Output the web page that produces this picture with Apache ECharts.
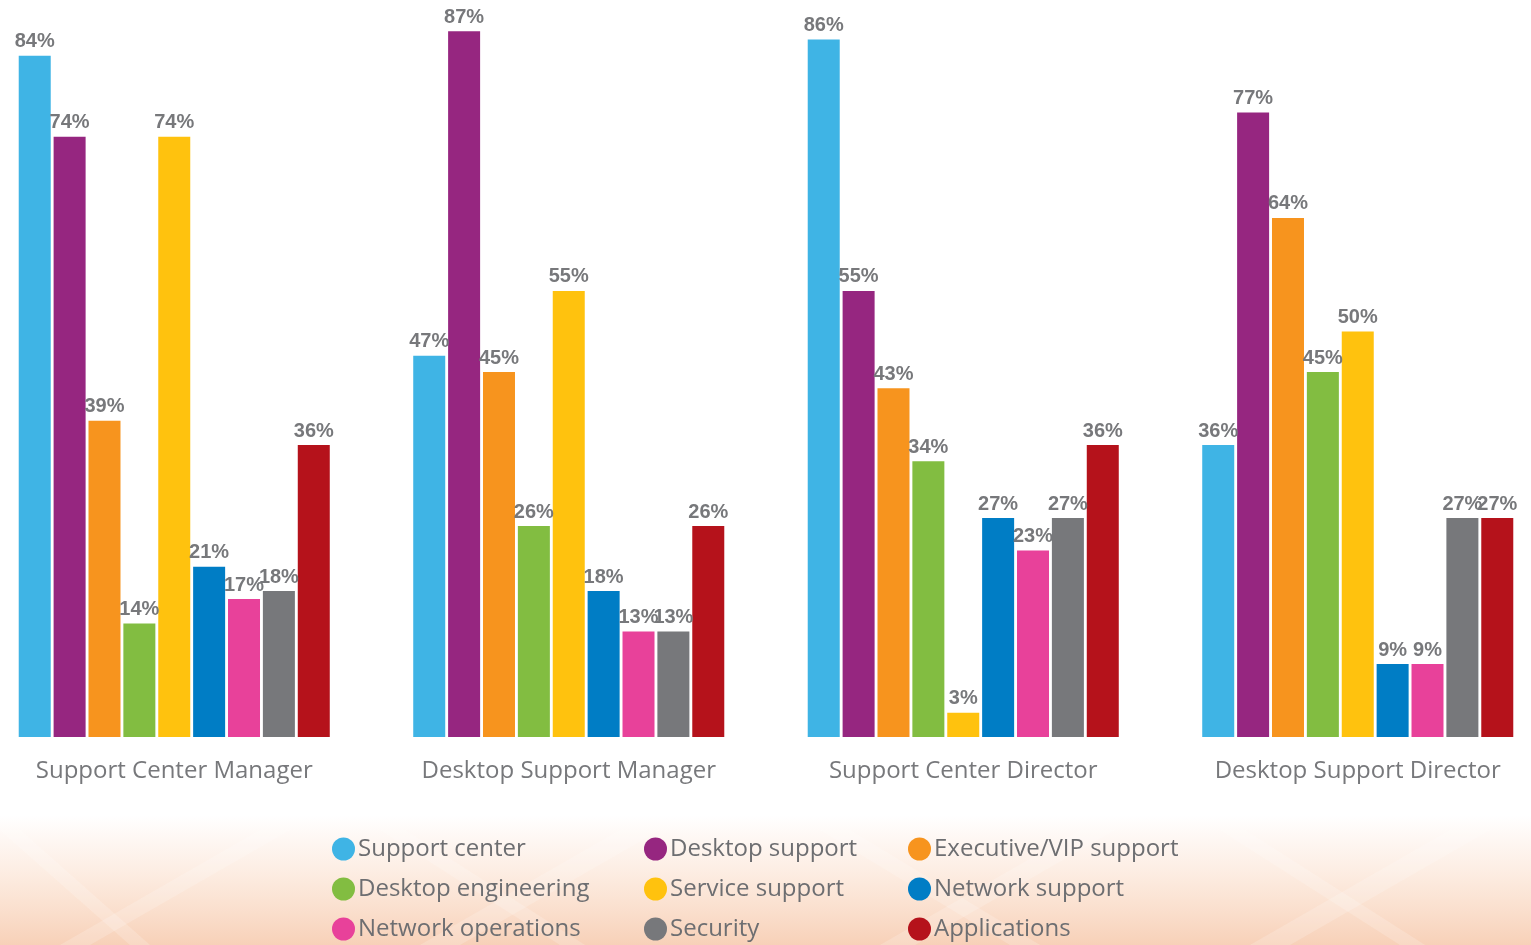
<!DOCTYPE html>
<html>
<head>
<meta charset="utf-8">
<script src="https://cdn.jsdelivr.net/npm/echarts@6/dist/echarts.min.js"></script>
<style>
  html, body { margin: 0; padding: 0; background: #fff; }
  #main { width: 1531px; height: 945px; }
</style>
</head>
<body>
<div id="main"></div>
<script>
// roles along the x axis
const roles = ['Support Center Manager', 'Desktop Support Manager', 'Support Center Director', 'Desktop Support Director'];

// percentage of respondents per function, one value per role
const supportCenter      = [84, 47, 86, 36];
const desktopSupport     = [74, 87, 55, 77];
const executiveVip       = [39, 45, 43, 64];
const desktopEngineering = [14, 26, 34, 45];
const serviceSupport     = [74, 55, 3, 50];
const networkSupport     = [21, 18, 27, 9];
const networkOperations  = [17, 13, 23, 9];
const security           = [18, 13, 27, 27];
const applications       = [36, 26, 36, 27];

const seriesNames = ['Support center', 'Desktop support', 'Executive/VIP support',
  'Desktop engineering', 'Service support', 'Network support',
  'Network operations', 'Security', 'Applications'];
const seriesValues = [supportCenter, desktopSupport, executiveVip, desktopEngineering,
  serviceSupport, networkSupport, networkOperations, security, applications];
const colors = ['#3fb4e5', '#962680', '#f7941e', '#82bd41', '#ffc20e',
  '#007dc5', '#e8419a', '#77787b', '#b5121b'];

const textFont = "'Open Sans', 'Noto Sans', sans-serif";
const labelFont = "'Liberation Sans', Arial, sans-serif";

const myChart = echarts.init(document.getElementById('main'));

// legend is laid out as three columns of three
function legendColumn(left, names) {
  return {
    orient: 'vertical',
    left: left,
    top: 837,
    height: 108,
    padding: 0,
    data: names,
    icon: 'circle',
    itemWidth: 23,
    itemHeight: 23,
    itemGap: 16,
    selectedMode: false,
    textStyle: { color: '#6d6e71', fontSize: 24, fontFamily: textFont, lineHeight: 24, padding: [0, 0, 0, -2] }
  };
}

// faint light streaks over the peach footer
function streak(x1, x2, w) {
  return {
    type: 'polygon',
    silent: true,
    z: -9,
    shape: { points: [[x1, 945], [x1 + w, 945], [x2 + w, 830], [x2, 830]] },
    style: { fill: 'rgba(255,255,255,0.18)' }
  };
}

const option = {
  animation: false,
  backgroundColor: '#ffffff',
  color: colors,
  graphic: [{
    type: 'rect',
    silent: true,
    z: -10,
    shape: { x: 0, y: 815, width: 1531, height: 130 },
    style: {
      fill: new echarts.graphic.LinearGradient(0, 0, 0, 1, [
        { offset: 0, color: 'rgba(250,214,190,0)' },
        { offset: 0.4, color: 'rgba(250,214,190,0.4)' },
        { offset: 1, color: 'rgba(247,206,180,0.95)' }
      ])
    }
  },
    streak(60, 260, 30), streak(130, 0, 20), streak(420, 620, 40),
    streak(560, 380, 25), streak(880, 1080, 35), streak(1010, 820, 30),
    streak(1250, 1450, 40), streak(1400, 1220, 25)
  ],
  legend: [
    legendColumn(332, [seriesNames[0], seriesNames[3], seriesNames[6]]),
    legendColumn(644, [seriesNames[1], seriesNames[4], seriesNames[7]]),
    legendColumn(908, [seriesNames[2], seriesNames[5], seriesNames[8]])
  ],
  grid: { left: -23, right: -24, top: 7, bottom: 208, outerBoundsMode: 'none' },
  xAxis: {
    type: 'category',
    data: roles,
    axisLine: { show: false },
    axisTick: { show: false },
    axisLabel: { color: '#77787b', fontSize: 24, fontFamily: textFont, margin: 22 }
  },
  yAxis: {
    type: 'value',
    min: 0,
    max: 90,
    show: false
  },
  series: seriesNames.map((name, i) => ({
    name: name,
    type: 'bar',
    data: seriesValues[i],
    barWidth: 32,
    barGap: '9%',
    itemStyle: { color: colors[i] },
    label: {
      show: true,
      position: 'top',
      distance: 4,
      formatter: '{c}%',
      color: '#77787b',
      fontSize: 20,
      fontWeight: 'bold',
      fontFamily: labelFont
    }
  }))
};

myChart.setOption(option);
</script>
</body>
</html>
